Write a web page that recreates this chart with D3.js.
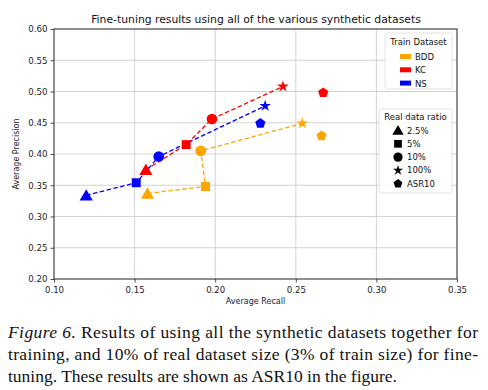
<!DOCTYPE html>
<html><head><meta charset="utf-8">
<script src="https://cdn.jsdelivr.net/npm/d3@7"></script>
<style>body{margin:0;background:#fff;}svg{display:block;}</style>
</head><body>
<svg id="c" width="488" height="390"></svg>
<script>
const datasets = ["BDD", "KC", "NS"];
const colors = ["#ffa500", "#ff0000", "#0000ff"];
const ratios = ["2.5%", "5%", "10%", "100%", "ASR10"];
const bddRecall = [0.158, 0.194, 0.191, 0.254, 0.266];
const bddPrecision = [0.337, 0.348, 0.405, 0.449, 0.429];
const kcRecall = [0.157, 0.182, 0.198, 0.242, 0.267];
const kcPrecision = [0.375, 0.415, 0.456, 0.508, 0.498];
const nsRecall = [0.120, 0.151, 0.165, 0.231, 0.228];
const nsPrecision = [0.334, 0.354, 0.396, 0.477, 0.449];
const xTicks = [0.10, 0.15, 0.20, 0.25, 0.30, 0.35];
const yTicks = [0.20, 0.25, 0.30, 0.35, 0.40, 0.45, 0.50, 0.55, 0.60];
const captionLines = [
  "Results of using all the synthetic datasets together for",
  "training, and 10% of real dataset size (3% of train size) for fine-",
  "tuning. These results are shown as ASR10 in the figure."
];

const svg = d3.select("#c");
const m = {l: 54, r: 457, t: 29, b: 279};
const x = d3.scaleLinear().domain([0.10, 0.35]).range([m.l, m.r]);
const y = d3.scaleLinear().domain([0.20, 0.60]).range([m.b, m.t]);
const sans = "DejaVu Sans, sans-serif";

// grid
svg.append("g").selectAll("line.gx").data(xTicks).join("line")
  .attr("x1", d => x(d)).attr("x2", d => x(d)).attr("y1", m.t).attr("y2", m.b)
  .attr("stroke", "#c8c8c8").attr("stroke-width", 0.8);
svg.append("g").selectAll("line.gy").data(yTicks).join("line")
  .attr("y1", d => y(d)).attr("y2", d => y(d)).attr("x1", m.l).attr("x2", m.r)
  .attr("stroke", "#c8c8c8").attr("stroke-width", 0.8);

// axes
const xa = svg.append("g").attr("transform", `translate(0,${m.b})`)
  .call(d3.axisBottom(x).tickValues(xTicks).tickFormat(d3.format(".2f")).tickSize(3.5).tickSizeOuter(0));
const ya = svg.append("g").attr("transform", `translate(${m.l},0)`)
  .call(d3.axisLeft(y).tickValues(yTicks).tickFormat(d3.format(".2f")).tickSize(3.5).tickSizeOuter(0));
[xa, ya].forEach(a => {
  a.select(".domain").remove();
  a.selectAll("text").attr("font-family", sans).attr("font-size", 8.6).attr("fill", "#222");
  a.selectAll("line").attr("stroke", "#222").attr("stroke-width", 0.8);
});
xa.selectAll("text").attr("dy", "0.9em");
svg.append("rect").attr("x", m.l).attr("y", m.t).attr("width", m.r - m.l).attr("height", m.b - m.t)
  .attr("fill", "none").attr("stroke", "#222").attr("stroke-width", 0.9);

// labels
svg.append("text").attr("x", 256).attr("y", 23).attr("text-anchor", "middle")
  .attr("font-family", sans).attr("font-size", 10.8).attr("fill", "#111")
  .text("Fine-tuning results using all of the various synthetic datasets");
svg.append("text").attr("x", (m.l + m.r) / 2).attr("y", 304).attr("text-anchor", "middle")
  .attr("font-family", sans).attr("font-size", 8).attr("fill", "#222").text("Average Recall");
svg.append("text").attr("transform", `translate(19,${(m.t + m.b) / 2}) rotate(-90)`).attr("text-anchor", "middle")
  .attr("font-family", sans).attr("font-size", 8).attr("fill", "#222").text("Average Precision");

// symbols
const symTypes = [d3.symbolTriangle, d3.symbolSquare, d3.symbolCircle, d3.symbolStar,
  (function(){ return {draw(ctx, size){ const r = Math.sqrt(size / 2.3776);
    for (let i = 0; i < 5; i++) { const a = -Math.PI/2 + i * 2*Math.PI/5;
      const px = r*Math.cos(a), py = r*Math.sin(a);
      i ? ctx.lineTo(px, py) : ctx.moveTo(px, py);} ctx.closePath(); }}; })()];
const symSizes = [75, 80, 90, 42, 68];

const series = [
  {recall: bddRecall, precision: bddPrecision},
  {recall: kcRecall, precision: kcPrecision},
  {recall: nsRecall, precision: nsPrecision}
];
const line = d3.line().x(d => x(d[0])).y(d => y(d[1]));
series.forEach((s, i) => {
  const pts = s.recall.map((r, j) => [r, s.precision[j]]);
  svg.append("path").attr("d", line(pts.slice(0, 4))).attr("fill", "none")
    .attr("stroke", colors[i]).attr("stroke-width", 1.3).attr("stroke-dasharray", "4.5,2.5");
});
series.forEach((s, i) => {
  s.recall.forEach((r, j) => {
    svg.append("path").attr("d", d3.symbol().type(symTypes[j]).size(symSizes[j])())
      .attr("transform", `translate(${x(r)},${y(s.precision[j]) + (j === 0 ? 1.5 : 0)})`)
      .attr("fill", colors[i]);
  });
});

// legend 1
const l1 = svg.append("g");
l1.append("rect").attr("x", 385).attr("y", 33).attr("width", 67).attr("height", 56).attr("rx", 2)
  .attr("fill", "#fff").attr("fill-opacity", 0.85).attr("stroke", "#ddd").attr("stroke-width", 0.8);
l1.append("text").attr("x", 418.5).attr("y", 44.5).attr("text-anchor", "middle")
  .attr("font-family", sans).attr("font-size", 8.5).attr("fill", "#111").text("Train Dataset");
datasets.forEach((d, i) => {
  const yy = 57 + i * 13.3;
  l1.append("rect").attr("x", 400).attr("y", yy - 3).attr("width", 11).attr("height", 5).attr("fill", colors[i]);
  l1.append("text").attr("x", 415).attr("y", yy + 3).attr("font-family", sans).attr("font-size", 8.5)
    .attr("fill", "#111").text(d);
});

// legend 2
const l2 = svg.append("g");
l2.append("rect").attr("x", 379).attr("y", 109).attr("width", 73).attr("height", 84).attr("rx", 2)
  .attr("fill", "#fff").attr("fill-opacity", 0.85).attr("stroke", "#ddd").attr("stroke-width", 0.8);
l2.append("text").attr("x", 415.5).attr("y", 119.5).attr("text-anchor", "middle")
  .attr("font-family", sans).attr("font-size", 8.5).attr("fill", "#111").text("Real data ratio");
ratios.forEach((r, j) => {
  const yy = 130.5 + j * 13.3;
  l2.append("path").attr("d", d3.symbol().type(symTypes[j]).size(symSizes[j] * 0.75)())
    .attr("transform", `translate(${398},${yy + (j === 0 ? 1 : 0)})`).attr("fill", "#000");
  l2.append("text").attr("x", 407).attr("y", yy + 3).attr("font-family", sans).attr("font-size", 8.5)
    .attr("fill", "#111").text(r);
});

// caption
const serif = "Liberation Serif, Times New Roman, serif";
const cap = svg.append("g");
const t1 = cap.append("text").attr("x", 8).attr("y", 338).attr("font-family", serif).attr("font-size", 17.5)
  .attr("fill", "#111").attr("textLength", 470).attr("lengthAdjust", "spacing");
t1.append("tspan").attr("font-style", "italic").text("Figure 6. ");
t1.append("tspan").text(captionLines[0]);
cap.append("text").attr("x", 8).attr("y", 360).attr("font-family", serif).attr("font-size", 17.5)
  .attr("fill", "#111").attr("textLength", 470).attr("lengthAdjust", "spacing").text(captionLines[1]);
cap.append("text").attr("x", 8).attr("y", 382).attr("font-family", serif).attr("font-size", 17.5)
  .attr("fill", "#111").text(captionLines[2]);
</script>
</body></html>
